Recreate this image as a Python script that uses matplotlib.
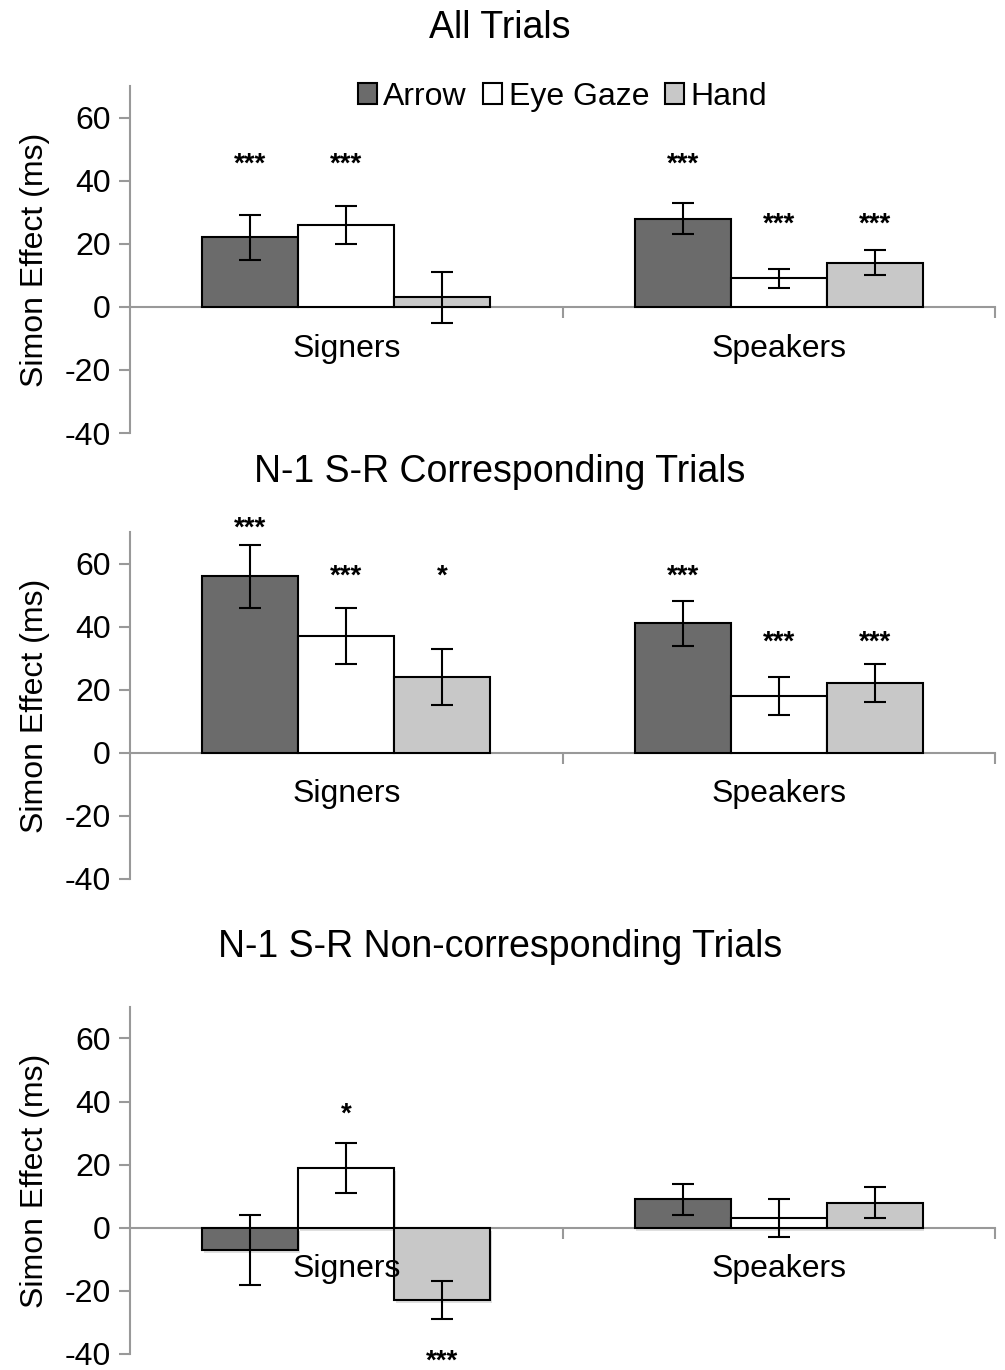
import numpy as np
import matplotlib
matplotlib.use("Agg")
import matplotlib.pyplot as plt
import matplotlib.patheffects as pe
from matplotlib.patches import Patch

plt.rcParams['font.family'] = ['Liberation Sans', 'DejaVu Sans']
plt.rcParams['axes.unicode_minus'] = False

groups = ['Signers', 'Speakers']
conditions = ['Arrow', 'Eye Gaze', 'Hand']
colors = ['#6b6b6b', '#ffffff', '#c8c8c8']

titles = ['All Trials', 'N-1 S-R Corresponding Trials', 'N-1 S-R Non-corresponding Trials']

# means[condition] -> [signers, speakers]
means_all = [[22, 28], [26, 9], [3, 14]]
errs_all = [[7, 5], [6, 3], [8, 4]]
stars_all = [['***', '***'], ['***', '***'], ['', '***']]
stary_all = [[45, 45], [45, 26], [0, 26]]

means_corr = [[56, 41], [37, 18], [24, 22]]
errs_corr = [[10, 7], [9, 6], [9, 6]]
stars_corr = [['***', '***'], ['***', '***'], ['*', '***']]
stary_corr = [[71, 56], [56, 35], [56, 35]]

means_non = [[-7, 9], [19, 3], [-23, 8]]
errs_non = [[11, 5], [8, 6], [6, 5]]
stars_non = [['', ''], ['*', ''], ['***', '']]
stary_non = [[0, 0], [36, 0], [-42.5, 0]]

panels = [
    (means_all, errs_all, stars_all, stary_all),
    (means_corr, errs_corr, stars_corr, stary_corr),
    (means_non, errs_non, stars_non, stary_non),
]

fig = plt.figure(figsize=(10.05, 13.7), dpi=100)
axes_pos = [0.6839, 0.3584, 0.0117]
title_y = [0.9796, 0.6555, 0.3088]
axcol = '#999999'
bw = 0.222
x = np.arange(len(groups))

for p, (means, errs, stars, stary) in enumerate(panels):
    ax = fig.add_axes([0.1294, axes_pos[p], 0.8607, 0.2533])
    for c in range(len(conditions)):
        xs = x + (c - 1) * bw
        bars = ax.bar(xs, means[c], bw, color=colors[c], edgecolor='black',
                      linewidth=1.5, label=conditions[c], zorder=3)
        if p == 2:
            for b in bars:
                b.set_path_effects([pe.SimplePatchShadow(offset=(1, -2), shadow_rgbFace='gray', alpha=0.25),
                                    pe.Normal()])
        ax.errorbar(xs, means[c], yerr=errs[c], fmt='none', ecolor='black',
                    elinewidth=1.5, capsize=8, capthick=1.5, zorder=4)
        for g in range(len(groups)):
            if stars[c][g]:
                ax.text(xs[g], stary[c][g], stars[c][g], ha='center', va='center',
                        fontsize=20, fontweight='bold', clip_on=False, zorder=5)
    ax.set_xlim(-0.5, 1.5)
    ax.set_ylim(-40, 70)
    ax.set_yticks([-40, -20, 0, 20, 40, 60])
    ax.tick_params(axis='y', labelsize=23, length=8, width=1.5, color=axcol, pad=6)
    ax.set_xticks([0.5, 1.5])
    ax.set_xticklabels([])
    ax.tick_params(axis='x', length=8, width=1.5, color=axcol, direction='out')
    ax.spines['top'].set_visible(False)
    ax.spines['right'].set_visible(False)
    ax.spines['left'].set_color(axcol)
    ax.spines['left'].set_linewidth(1.5)
    ax.spines['bottom'].set_position(('data', 0))
    ax.spines['bottom'].set_color(axcol)
    ax.spines['bottom'].set_linewidth(1.5)
    ax.spines['bottom'].set_zorder(2)
    for g in range(len(groups)):
        ax.annotate(groups[g], (x[g], 0), xytext=(0, -30), textcoords='offset points',
                    ha='center', va='center', fontsize=23, zorder=6)
    ax.set_ylabel('Simon Effect (ms)', fontsize=23)
    ax.yaxis.set_label_coords(-0.092, 0.5)
    fig.text(0.4975, title_y[p], titles[p], ha='center', va='center', fontsize=27)
    if p == 0:
        handles = [Patch(facecolor=colors[c], edgecolor='black', linewidth=1.5) for c in range(3)]
        ax.legend(handles, conditions, loc='upper center', bbox_to_anchor=(0.5, 1.095),
                  ncol=3, frameon=False, fontsize=23, handlelength=0.6, handleheight=0.6,
                  handletextpad=0.2, columnspacing=0.5)

fig.savefig('out.png', dpi=100)
